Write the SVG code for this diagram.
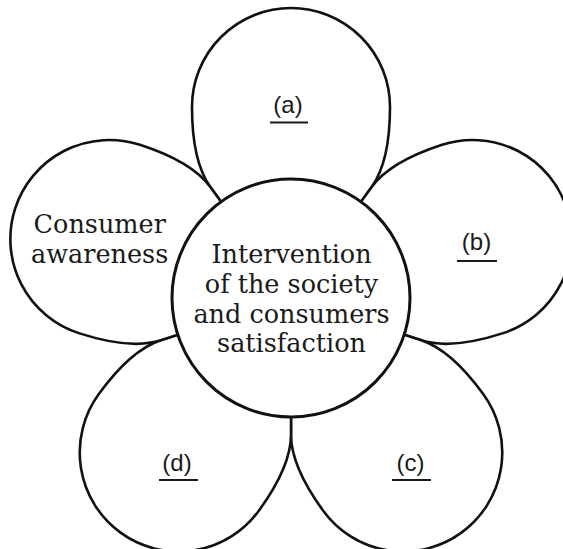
<svg xmlns="http://www.w3.org/2000/svg" xmlns:xlink="http://www.w3.org/1999/xlink" width="563" height="549" viewBox="0 0 563 549">
  <style>
    .petal { fill: #ffffff; stroke: #111111; stroke-width: 2.6; stroke-linejoin: round; }
    .hub { fill: #ffffff; stroke: #111111; stroke-width: 3; }
    .main { font-family: "DejaVu Serif", "Liberation Serif", serif; font-size: 25.5px; fill: #1a1a1a; text-anchor: middle; }
    .lbl { font-family: "Liberation Sans", "DejaVu Sans", sans-serif; font-size: 24px; fill: #1a1a1a; text-anchor: middle; }
    .ul { stroke: #1a1a1a; stroke-width: 1.8; }
  </style>
  <defs>
    <path id="petalShape" class="petal" d="M0 0 L110.8 -80.5 C127.8 -92.8 154.5 -99 191 -99 A99 99 0 0 1 191 99 C154.5 99 127.8 92.8 110.8 80.5 Z"/>
  </defs>
  <g id="connectors"></g>
  <g id="petal-a">
    <use xlink:href="#petalShape" href="#petalShape" transform="translate(291,298) rotate(-90)"/>
    <text class="lbl" x="288" y="113">(a)</text>
    <line class="ul" x1="270" y1="122.5" x2="308" y2="122.5"/>
  </g>
  <g id="petal-b">
    <use xlink:href="#petalShape" href="#petalShape" transform="translate(291,298) rotate(-18)"/>
    <text class="lbl" x="476.5" y="250">(b)</text>
    <line class="ul" x1="457" y1="261" x2="497" y2="261"/>
  </g>
  <g id="petal-c">
    <use xlink:href="#petalShape" href="#petalShape" transform="translate(291,298) rotate(54)"/>
    <text class="lbl" x="410.5" y="470.5">(c)</text>
    <line class="ul" x1="392" y1="480" x2="431" y2="480"/>
  </g>
  <g id="petal-d">
    <use xlink:href="#petalShape" href="#petalShape" transform="translate(291,298) rotate(126)"/>
    <text class="lbl" x="177" y="470.5">(d)</text>
    <line class="ul" x1="159" y1="480" x2="198" y2="480"/>
  </g>
  <g id="petal-consumer-awareness">
    <use xlink:href="#petalShape" href="#petalShape" transform="translate(291,298) rotate(198)"/>
    <text class="main" x="99.7" y="233.3">Consumer</text>
    <text class="main" x="99.7" y="263.3">awareness</text>
  </g>
  <g id="center">
    <circle class="hub" cx="291" cy="298" r="119"/>
    <text class="main" x="291.5" y="263.3">Intervention</text>
    <text class="main" x="291.5" y="292.7">of the society</text>
    <text class="main" x="291.5" y="322.5">and consumers</text>
    <text class="main" x="291.5" y="351.7">satisfaction</text>
  </g>
</svg>
